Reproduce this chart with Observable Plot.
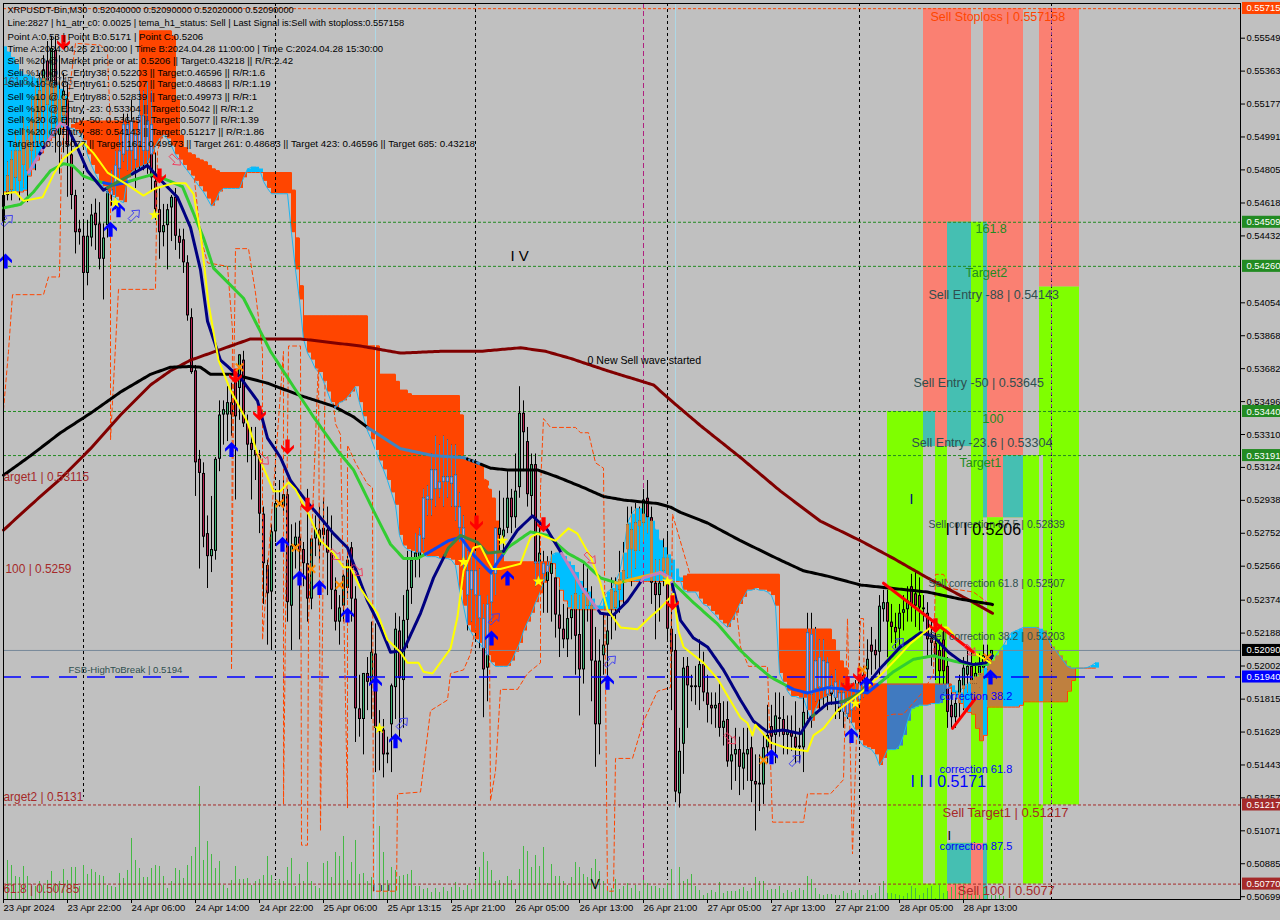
<!DOCTYPE html>
<html><head><meta charset="utf-8">
<script src="https://cdn.jsdelivr.net/npm/d3@7"></script>
<script src="https://cdn.jsdelivr.net/npm/@observablehq/plot@0.6"></script>
<style>html,body{margin:0;padding:0;background:#C0C0C0;overflow:hidden}svg{display:block}</style>
</head><body><div id="chart"></div>
<script>
// All prices in 1/10000 units (5209 = 0.5209). Bars are 30 minute candles.
const ohlcRows = [
[5451,5480,5445,5466],[5477,5485,5463,5466],[5469,5491,5463,5486],[5491,5503,5468,5476],[5474,5497,5463,5491],[5503,5510,5470,5483],[5480,5505,5462,5497],[5508,5520,5480,5491],
[5500,5528,5480,5522],[5525,5535,5495,5508],[5514,5545,5495,5537],[5542,5553,5495,5517],[5520,5556,5498,5549],[5548,5556,5490,5512],[5500,5545,5478,5520],[5511,5535,5490,5525],
[5520,5530,5465,5494],[5489,5500,5458,5466],[5466,5469,5433,5445],[5447,5452,5438,5445],[5443,5452,5407,5422],[5422,5452,5415,5443],[5442,5461,5437,5455],[5456,5464,5435,5449],
[5450,5462,5424,5430],[5430,5450,5407,5442],[5449,5469,5442,5468],[5469,5480,5460,5466],[5472,5491,5458,5483],[5481,5500,5475,5491],[5506,5512,5485,5489],[5491,5512,5480,5506],
[5508,5520,5480,5491],[5486,5503,5470,5500],[5494,5525,5480,5511],[5511,5525,5480,5491],[5491,5530,5478,5508],[5506,5525,5468,5476],[5474,5490,5452,5458],[5458,5470,5430,5445],
[5445,5461,5437,5449],[5449,5461,5424,5458],[5459,5466,5440,5465],[5465,5470,5435,5443],[5443,5447,5430,5439],[5441,5447,5422,5428],[5428,5432,5395,5398],[5397,5402,5365,5366],
[5367,5370,5296,5315],[5317,5322,5255,5309],[5309,5315,5267,5273],[5275,5285,5244,5262],[5262,5296,5253,5266],[5265,5318,5260,5317],[5317,5350,5310,5342],[5342,5350,5325,5345],
[5342,5358,5327,5349],[5349,5360,5330,5342],[5362,5362,5294,5341],[5357,5376,5339,5376],[5373,5378,5335,5337],[5337,5342,5315,5325],[5326,5335,5294,5322],[5322,5335,5305,5319],
[5319,5322,5275,5286],[5286,5290,5235,5258],[5257,5260,5212,5241],[5242,5280,5209,5276],[5276,5300,5270,5292],[5292,5305,5290,5293],[5290,5305,5285,5297],[5297,5300,5225,5236],
[5234,5280,5209,5268],[5268,5281,5255,5273],[5273,5282,5215,5265],[5266,5270,5245,5258],[5258,5300,5225,5238],[5238,5272,5232,5272],[5272,5285,5262,5278],[5268,5290,5260,5277],
[5278,5295,5268,5274],[5277,5290,5240,5264],[5264,5285,5232,5243],[5243,5250,5220,5225],[5225,5240,5212,5233],[5234,5252,5225,5251],[5244,5265,5238,5260],[5267,5270,5225,5238],
[5238,5245,5157,5176],[5176,5195,5160,5170],[5170,5196,5150,5196],[5196,5205,5175,5191],[5191,5225,5170,5208],[5207,5224,5140,5165],[5165,5175,5141,5163],[5164,5170,5137,5150],
[5150,5160,5145,5151],[5167,5190,5140,5189],[5188,5230,5170,5221],[5220,5228,5160,5193],[5192,5240,5165,5226],[5226,5265,5210,5243],[5244,5265,5235,5260],[5260,5275,5250,5264],
[5261,5278,5250,5274],[5272,5300,5265,5295],[5294,5302,5285,5296],[5294,5320,5285,5311],[5311,5330,5290,5300],[5300,5325,5295,5304],[5304,5330,5290,5307],[5307,5328,5295,5304],
[5303,5325,5290,5307],[5308,5325,5282,5290],[5290,5298,5270,5278],[5278,5285,5250,5260],[5240,5265,5220,5254],[5243,5262,5225,5254],[5254,5265,5220,5240],[5240,5255,5210,5227],
[5227,5235,5171,5198],[5199,5240,5180,5235],[5236,5255,5225,5252],[5252,5278,5240,5278],[5274,5299,5265,5278],[5273,5295,5262,5277],[5278,5310,5275,5295],[5295,5300,5275,5284],
[5284,5320,5278,5299],[5301,5358,5295,5343],[5343,5350,5310,5332],[5327,5335,5290,5297],[5296,5320,5285,5314],[5314,5320,5245,5258],[5258,5280,5248,5264],[5252,5265,5230,5258],
[5248,5262,5230,5257],[5252,5265,5225,5258],[5250,5255,5216,5229],[5229,5245,5205,5221],[5221,5235,5210,5215],[5215,5235,5205,5227],[5227,5240,5215,5232],[5241,5250,5195,5217],
[5218,5240,5172,5198],[5198,5258,5190,5241],[5241,5255,5225,5234],[5234,5245,5180,5203],[5203,5222,5143,5167],[5167,5215,5150,5203],[5206,5230,5195,5212],[5212,5230,5190,5220],
[5232,5250,5215,5243],[5233,5250,5220,5242],[5249,5265,5230,5243],[5248,5270,5235,5254],[5266,5290,5250,5280],[5266,5290,5245,5277],[5265,5292,5255,5281],[5279,5290,5265,5282],
[5281,5300,5270,5294],[5295,5305,5275,5284],[5284,5290,5235,5247],[5247,5260,5215,5240],[5240,5260,5225,5247],[5254,5272,5245,5261],[5261,5275,5215,5221],[5221,5235,5175,5208],
[5209,5218,5123,5129],[5128,5165,5120,5152],[5156,5205,5139,5199],[5200,5205,5165,5189],[5189,5195,5180,5188],[5189,5200,5178,5188],[5188,5215,5175,5201],[5201,5208,5180,5185],
[5185,5195,5168,5178],[5178,5185,5167,5176],[5176,5185,5165,5178],[5179,5190,5160,5165],[5165,5180,5155,5169],[5170,5180,5143,5146],[5146,5160,5130,5150],[5150,5165,5135,5153],
[5153,5160,5127,5143],[5142,5165,5130,5151],[5150,5165,5135,5153],[5154,5160,5123,5135],[5135,5150,5107,5133],[5134,5150,5118,5133],[5133,5162,5122,5154],[5154,5178,5145,5161],
[5166,5178,5150,5160],[5161,5185,5145,5172],[5171,5185,5160,5170],[5170,5183,5150,5161],[5161,5172,5150,5164],[5163,5172,5152,5160],[5160,5180,5145,5154],[5154,5165,5145,5155],
[5154,5185,5140,5174],[5185,5230,5170,5219],[5184,5230,5165,5218],[5203,5222,5180,5187],[5188,5215,5175,5205],[5203,5215,5178,5186],[5184,5205,5175,5202],[5189,5195,5178,5184],
[5182,5198,5170,5191],[5185,5192,5170,5174],[5174,5190,5165,5185],[5181,5188,5170,5173],[5175,5190,5168,5181],[5184,5192,5175,5178],[5181,5198,5178,5192],[5188,5200,5182,5195],
[5198,5215,5188,5204],[5212,5222,5195,5208],[5209,5215,5198,5206],[5208,5240,5195,5234],[5232,5243,5225,5236],[5236,5243,5205,5225],[5225,5235,5213,5222],[5222,5230,5210,5219],
[5221,5235,5210,5230],[5230,5240,5220,5232],[5232,5245,5225,5237],[5245,5252,5225,5234],[5241,5253,5222,5234],[5240,5250,5220,5233],[5233,5240,5225,5232],[5230,5236,5205,5215],
[5216,5225,5200,5213],[5213,5220,5192,5205],[5209,5215,5190,5197],[5215,5222,5185,5197],[5200,5205,5165,5174],[5178,5185,5165,5171],[5171,5185,5165,5179],[5179,5195,5170,5192],
[5187,5205,5175,5199],[5195,5210,5185,5200],[5200,5208,5182,5190],[5190,5202,5183,5196],[5195,5207,5188,5200],[5199,5212,5193,5206],[5203,5212,5198,5206],[5204,5209,5202,5209]
];
const volumes = [38,39,34,23,22,33,23,13,13,18,14,19,28,16,18,30,19,32,32,13,34,25,30,27,24,23,14,13,12,26,21,29,61,39,31,22,22,31,34,33,23,11,18,31,29,21,34,43,52,113,39,58,45,31,38,14,11,19,33,20,20,21,14,18,20,24,43,24,18,20,18,32,41,13,25,18,37,18,13,11,36,38,22,47,43,63,19,37,59,25,26,18,22,43,73,47,19,32,29,23,24,25,29,13,13,10,11,7,11,7,12,8,12,17,12,9,14,10,20,32,47,38,29,18,19,
16,23,19,10,30,53,48,32,44,33,52,16,35,23,23,18,14,22,37,32,25,22,31,40,28,18,13,11,20,10,13,16,11,14,8,19,16,13,13,11,11,16,30,97,32,18,20,25,13,9,4,6,9,7,17,6,8,8,8,10,12,8,11,22,18,18,9,10,10,13,6,9,7,9,11,9,23,20,11,5,4,5,5,4,4,8,6,9,6,9,4,9,4,6,13,18,6,6,5,4,3,6,13,11,4,6,11,13,1,14,6,8,12,15,8,14,5,5,8,4,12,4,4,4,4,3];
// Ichimoku-like cloud: [span A, span B] per bar
const cloudRows = [
[5550,5468],[5547,5468],[5544,5468],[5540,5468],[5536,5468],[5534,5469],[5534,5477],[5533,5481],[5532,5486],[5532,5490],[5532,5494],[5531,5497],[5530,5499],[5528,5502],[5526,5504],[5522,5505],[5504,5504],
[5504,5506],[5503,5507],[5501,5508],[5497,5508],[5489,5508],[5483,5508],[5478,5508],[5474,5508],[5471,5508],[5467,5508],[5466,5508],[5465,5508],[5463,5508],[5462,5508],[5476,5508],[5479,5508],[5481,5508],
[5482,5559],[5483,5559],[5484,5559],[5489,5559],[5494,5559],[5498,5559],[5500,5559],[5498,5559],[5494,5556],[5489,5520],[5486,5500],[5483,5493],[5480,5490],[5477,5489],[5474,5487],[5471,5486],[5468,5485],[5464,5483],[5460,5481],[5463,5480],[5468,5479],
[5470,5479],[5470,5479],[5470,5479],[5470,5479],[5470,5479],[5476,5479],[5481,5479],[5482,5479],[5482,5479],[5481,5479],[5474,5479],[5470,5479],[5467,5479],[5467,5479],[5467,5479],[5467,5479],[5467,5479],
[5445,5469],[5424,5442],[5407,5415],[5385,5398],[5377,5398],[5373,5398],[5368,5398],[5366,5398],[5361,5398],[5355,5398],[5349,5398],[5346,5398],[5349,5398],[5350,5398],[5352,5398],[5355,5398],[5358,5398],[5349,5398],[5341,5398],
[5333,5381],[5328,5381],[5322,5381],[5316,5365],[5311,5365],[5305,5365],[5298,5365],[5291,5361],[5274,5356],[5268,5356],[5266,5354],[5265,5353],[5264,5353],[5264,5353],[5263,5353],[5262,5353],[5262,5353],[5262,5353],[5261,5353],[5261,5353],[5261,5353],[5260,5353],[5257,5353],
[5243,5342],[5234,5318],[5223,5317],[5219,5316],[5215,5315],[5213,5313],[5210,5305],[5206,5300],[5202,5295],[5200,5282],[5200,5265],[5200,5259],[5200,5259],[5203,5259],[5208,5259],[5213,5259],[5220,5259],[5225,5259],[5230,5259],[5236,5259],[5241,5259],[5247,5259],[5253,5259],
[5263,5258],[5264,5250],[5264,5243],[5262,5237],[5259,5233],[5257,5232],[5253,5232],[5248,5232],[5244,5232],[5242,5232],[5238,5232],[5234,5232],[5234,5232],[5239,5232],[5242,5232],[5244,5232],[5248,5232],[5253,5237],[5264,5248],[5281,5248],[5286,5248],[5289,5248],[5289,5248],[5286,5248],[5284,5248],[5282,5248],[5277,5248],[5271,5248],[5267,5248],[5263,5248],[5260,5248],[5255,5248],[5250,5248],
[5243,5251],[5242,5252],[5242,5252],[5242,5252],[5238,5252],[5235,5252],[5234,5252],[5231,5252],[5229,5252],[5226,5252],[5224,5252],[5222,5252],[5226,5252],[5230,5252],[5235,5252],[5239,5252],[5243,5252],[5243,5252],[5244,5252],[5243,5252],[5243,5252],[5242,5252],[5240,5252],[5234,5252],
[5196,5221],[5191,5221],[5186,5221],[5183,5221],[5183,5221],[5182,5221],[5182,5221],[5175,5221],[5169,5221],[5176,5221],[5181,5221],[5182,5221],[5183,5221],[5185,5215],[5182,5209],[5177,5203],[5174,5199],[5171,5190],[5168,5190],[5164,5190],[5158,5190],[5155,5190],[5154,5190],[5153,5190],[5150,5190],[5144,5190],[5148,5190],[5153,5190],[5153,5190],[5153,5190],[5155,5190],[5161,5190],[5169,5190],[5176,5190],[5177,5190],[5178,5190],[5178,5190],[5178,5190],[5179,5190],[5179,5190],[5179,5190],[5183,5190],[5187,5190],
[5189,5185],[5186,5182],[5185,5179],[5189,5176],[5190,5174],[5192,5173],[5194,5165],[5196,5158],[5199,5161],[5201,5177],[5203,5177],[5206,5177],[5209,5177],[5212,5177],[5216,5177],[5219,5177],[5220,5177],[5221,5178],[5222,5180],[5222,5180],[5222,5180],[5222,5180],[5221,5180],[5220,5180],[5217,5180],[5211,5180],[5209,5180],[5206,5180],[5203,5180],[5200,5186],[5199,5192],[5199,5199],[5199,5199],[5199,5199],[5199.4,5199],[5200.5,5199],[5202,5199]
];
// moving averages: [bar, price]
const maBlack = [[0,5308],[6.75,5319],[14.25,5332],[21.75,5343],[29.25,5355],[36.75,5365],[41.75,5369],[46.75,5369.4],[49.25,5369],[51.75,5365],[57.5,5365],[66,5360],[74.25,5353],[82.5,5347],[87.5,5341],[91,5335],[99.25,5323],[107.5,5319],[115,5318],[118.5,5315],[121.75,5312],[126,5311],[133.5,5311],[138.5,5307],[145,5301],[150,5296],[155,5294],[163.5,5292],[166.75,5290],[169.25,5287],[176,5281],[184.25,5271],[194.25,5260],[200,5254],[206,5251],[214.25,5246],[222.5,5244],[231,5242],[239.25,5238],[247.25,5235]];
const maDarkRed = [[0,5277],[6.75,5291],[14.25,5306],[21.75,5323],[29.25,5342],[36.75,5359],[41.75,5367],[46.75,5373],[51.75,5377],[56.75,5381],[61.75,5385],[66.75,5385],[74.25,5385],[81.75,5383],[89.25,5381],[99.25,5377],[109.25,5378],[119.25,5378],[129.25,5380],[135.5,5378],[141.75,5374],[151,5367],[162.5,5359],[167.5,5349],[174.25,5336],[184.25,5318],[194.25,5299],[204.25,5282],[214.25,5271],[222.5,5261],[231,5250],[241.75,5237],[247.25,5230]];
const maNavy = [[6.25,5479],[10,5493],[14.25,5507],[16,5504.5],[18.5,5493],[21,5480],[25,5469],[28,5473],[31.25,5477],[36,5483],[38.75,5476],[43.5,5465],[46.75,5448],[49.25,5424],[51,5395],[54.25,5373],[59.25,5363],[63.5,5350],[66,5329],[69.25,5318],[71.75,5305],[75.5,5294],[79.25,5284],[82.5,5275],[86,5267],[91,5237],[94.25,5222],[96.75,5208],[100,5209],[104.25,5230],[107.5,5250],[111.25,5267],[114.25,5274],[118.5,5270],[121,5264],[125,5265],[128.5,5277],[132.25,5285],[136,5277],[140,5262],[145,5243],[149.25,5230],[152.5,5229],[156,5237],[160,5250],[164.25,5253],[166.75,5250],[168,5239],[169.25,5226],[172.5,5216],[176,5211],[180,5198],[184.25,5181],[187.5,5169],[191,5163],[195,5164],[199.25,5162],[201.75,5171],[206,5179],[209.75,5180],[214.25,5185],[219.25,5199],[224.25,5211],[229.25,5219],[232.5,5217],[236.25,5208],[239.25,5203],[242.5,5201],[245.5,5202],[247.25,5206]];
const maGreen = [[0,5459],[4.25,5461],[7.5,5468],[11.75,5480],[15,5484],[17.25,5483],[20,5477],[23.5,5474],[27.5,5472],[30,5473],[34.25,5476],[37.5,5478],[41.75,5474],[44.75,5471],[47.5,5456],[50,5442],[52.5,5425],[60,5408],[66.75,5378],[72.5,5358],[77.5,5341],[83.5,5322],[87.5,5311],[92.5,5288],[96.75,5269],[100,5261],[103.5,5261],[106,5264],[111.25,5271],[114.25,5273],[117.5,5263],[121.75,5253],[126,5267],[131.75,5276],[136,5274],[141,5264],[145,5259],[149.25,5250],[153.5,5247],[158.5,5250],[164.25,5253],[167.5,5247],[172.5,5236],[178.5,5224],[184.25,5209],[187.5,5202],[191.75,5194],[197.5,5187],[201,5185],[206,5188],[211,5187],[216,5185],[222.5,5197],[227.5,5204],[232.5,5206],[237.5,5203],[241.75,5201],[246,5201]];
const maYellow = [[0,5467],[3,5468],[5,5463],[9.75,5465],[12.5,5478],[15,5487],[20,5496],[22.5,5490],[26,5479],[31,5472],[35,5466],[38,5470],[42.5,5473],[45.5,5473],[47.5,5467],[49.25,5445],[51.25,5405],[53.75,5373],[56.75,5356],[61,5338],[63.5,5320],[67.5,5299],[69.25,5299],[71.25,5304],[73,5300],[76.25,5286],[79.25,5271],[82.5,5264],[85,5256],[86.75,5256],[89.25,5244],[91,5238],[93.5,5230],[96,5215],[99.25,5208],[101,5202],[103.75,5202],[105,5197],[107.25,5196],[111.75,5210],[113.5,5228],[115,5254],[117.5,5267],[119.25,5268],[121,5260],[122.25,5255],[124.25,5255],[129.25,5258],[131.75,5273],[133.5,5275],[138,5271],[141.25,5278],[143.5,5275],[146.75,5262],[149.25,5247],[151,5232],[154.25,5222],[158.5,5221],[161.75,5228],[164.25,5233],[167.5,5241],[168.75,5220],[170,5211],[175,5202],[178.5,5193],[184.25,5171],[186,5168],[187.25,5161],[188,5167],[191.75,5157],[195.5,5154],[201,5152],[202.5,5161],[205,5165],[208.5,5175],[214.25,5185],[219.25,5195],[223.5,5205],[226.75,5213],[231.75,5222],[236,5222],[238.5,5215],[241.75,5209],[246.75,5202]];
const dashedPath = [[0,5345],[1.25,5378],[2.25,5410],[10,5410],[11.25,5420],[14,5420],[14.5,5491.5],[18,5552],[24.25,5551],[26,5547],[26.75,5503],[26.75,5328],[28.75,5413],[38,5413],[38.5,5491],[41.25,5514],[47.5,5480],[49.25,5443],[51,5428],[56,5426],[57.25,5390],[57,5198],[57.5,5350],[58,5436],[61.25,5436],[63,5411],[64.75,5378],[64.75,5215],[70,5378],[70,5122],[71.25,5381],[74.25,5381],[74.5,5099],[76,5099],[76.25,5226],[78.75,5373],[79.25,5107],[80.5,5390],[83,5337],[84.25,5331],[86,5120],[86,5325],[88,5315],[91,5303],[92.25,5301],[92.5,5073],[98.25,5073],[98.5,5128],[104.25,5129],[106.75,5175],[111,5181],[111.75,5196],[115,5198],[116.75,5207],[118.5,5228],[118.5,5307],[121.25,5305],[121.75,5124],[123,5141],[124.25,5187],[128.5,5187],[131,5196],[134.25,5202],[134.25,5301],[135,5340],[136.75,5335],[143,5335],[144.25,5332],[146.25,5332],[148,5315],[150,5312],[151,5073],[152.5,5073],[153,5148],[157.25,5148],[160,5169],[163.5,5186],[166.75,5188],[167.25,5286],[171.75,5251],[183,5237],[184.25,5211],[186.25,5200],[191,5200],[192.25,5112],[200,5112],[201,5128],[206.75,5128],[210,5136],[211,5227],[212.25,5094],[214.25,5227],[215,5227],[215.25,5169],[222.5,5173],[225,5173],[230,5186],[232.5,5196],[233,5252],[235,5252],[236.75,5244],[242.5,5242],[247.25,5234]];
const redLines = [[[220,5247],[242.5,5208]],[[237.25,5165],[243,5182]]];
// signals: [bar, price]
const blueUp = [[0.5,5429],[26.75,5447],[28.75,5458],[57,5322.5],[69.75,5269],[74,5250],[79,5244.5],[86,5229],[93,5190],[98,5158],[122,5216],[126,5250],[151,5191],[192,5149],[212,5161],[215.75,5190],[246.75,5194]];
const redDown = [[15,5552.5],[39,5477],[58,5364],[64,5343],[71,5324],[76,5291],[118.25,5281],[135,5280],[167.25,5236],[211,5190],[214,5195],[233,5223]];
const hollowBlue = [[1,5452],[32.75,5455],[99.75,5168],[122.75,5227],[151.75,5203],[198,5147],[223.75,5213]];
const hollowRed = [[43,5486],[65,5317],[83,5263],[88.5,5254],[146.75,5261],[181.75,5159],[241.75,5209]];
const stars = [[28,5462],[37.75,5455],[94,5165],[115,5259],[124.75,5271],[133.75,5248],[166,5248],[213,5179]];
const crosses = [[59,5369],[69,5292],[73,5267],[77,5255],[84,5246],[190,5147],[214.75,5198],[246,5205]];
// zones: [bar from, bar to, top price, bottom price]
const limeZones = [[221,230,5344,5068.3],[230,233,5344,5324.2],[230,233,5077,5068.3],[233,236,5324.2,5068.3],[236,242,5450.9,5324.2],[242,245,5450.9,5100],[245,246,5450.9,5284],[246,250,5284,5077],[250,255,5319.1,5284],[255,259,5319.1,5077],[259,260,5414.3,5319.1],[259,260,5121.7,5077],[260,269,5414.3,5121.7],[236,242,5100,5077],[245,246,5100,5068.3]];
const salmonZones = [[230,242,5571.6,5324.2],[245,255,5571.6,5284],[259,269,5571.6,5414.3],[236,246,5100,5068.3]];
// levels
const greenLevels = [5450.9,5426,5344,5319.1];
const brownLevels = [5121.7,5077];
const stopLevel = 5571.58, breakLevel = 5194, lastPrice = 5209;
const sessionBars = [[20,5126],[68,5079],[118,5079],[166,5079],[214,5077],[262,5068.3]];
const cyanBars = [93,168];
const purpleBar = 160;
const xTickBars = [0,16,32,48,64,80,96,112,128,144,160,176,192,208,224,240];
const xTickLabels = ["23 Apr 2024","23 Apr 22:00","24 Apr 06:00","24 Apr 14:00","24 Apr 22:00","25 Apr 06:00","25 Apr 13:15","25 Apr 21:00","26 Apr 05:00","26 Apr 13:00","26 Apr 21:00","27 Apr 05:00","27 Apr 13:00","27 Apr 21:00","28 Apr 05:00","28 Apr 13:00"];
const yTicks = [0.55549,0.55363,0.55177,0.54991,0.54805,0.54618,0.54432,0.54054,0.53868,0.53682,0.53496,0.5331,0.53124,0.52938,0.52752,0.52566,0.52374,0.52188,0.52002,0.51815,0.51629,0.51443,0.51257,0.51071,0.50885,0.50699];
const badges = [[5571.7,"0.55715","#FF4500"],[5450.9,"0.54509","#228B22"],[5426,"0.54260","#228B22"],[5344,"0.53440","#228B22"],[5319.1,"0.53191","#228B22"],[5209,"0.52090","#000000"],[5194,"0.51940","#0000FF"],[5121.7,"0.51217","#A52A2A"],[5077,"0.50770","#A52A2A"]];
const infoLines = ["XRPUSDT-Bin,M30  0.52040000 0.52090000 0.52020000 0.52090000","Line:2827 | h1_atr_c0: 0.0025 | tema_h1_status: Sell | Last Signal is:Sell with stoploss:0.557158","Point A:0.53 | Point B:0.5171 | Point C:0.5206","Time A:2024.04.26 21:00:00 | Time B:2024.04.28 11:00:00 | Time C:2024.04.28 15:30:00","Sell %20 @ Market price or at: 0.5206 || Target:0.43218 || R/R:2.42","Sell %10 @ C_Entry38: 0.52203 || Target:0.46596 || R/R:1.6","Sell %10 @ C_Entry61: 0.52507 || Target:0.48683 || R/R:1.19","Sell %10 @ C_Entry88: 0.52839 || Target:0.49973 || R/R:1","Sell %10 @ Entry -23: 0.53304 || Target:0.5042 || R/R:1.2","Sell %20 @ Entry -50: 0.53645 || Target:0.5077 || R/R:1.39","Sell %20 @ Entry -88: 0.54143 || Target:0.51217 || R/R:1.86","Target100: 0.5077 || Target 161: 0.49973 || Target 261: 0.48683 || Target 423: 0.46596 || Target 685: 0.43218"];
const infoRows = [10,23,36,48,60,72,83,96,108,119,131,143];
const infoSizes = [9.16,9.32,9.7,9.57,9.65,9.7,9.7,9.7,9.7,9.7,9.7,9.78];
const G="#228B22",B="#A52A2A",S="#2F4F4F",U="#0000FF",K="#000000";
const labels = [["Sell Stoploss | 0.557158",231.75,5567,"#FF4500",12.5],["161.8",243,5447,G,12.5],["Target2",240.5,5422,G,12.5],["Sell Entry -88 | 0.54143",231.25,5410,S,12.5],["Sell Entry -50 | 0.53645",227.5,5360,S,12.5],["100",244.75,5340,G,12.5],["Sell Entry -23.6 | 0.53304",227,5326,S,12.5],["Target1",239,5315,G,12.5],["Sell correction 87.5 | 0.52839",231.25,5280,S,10.5],["I I I 0.5206",235.5,5277,K,16],["I",226.5,5294,"#00008B",14],["Sell correction 61.8 | 0.52507",231.25,5247,S,10.5],["Sell correction 38.2 | 0.52203",231.25,5217,S,10.5],["correction 38.2",234,5183,U,11],["correction 61.8",234,5142,U,11],["I I I 0.5171",226.75,5135,U,16],["Sell Target1 | 0.51217",234.75,5117,B,13],["correction 87.5",234,5098,U,11],["Sell 100 | 0.5077",238.5,5073,B,13],["0 New Sell wave started",146,5373,K,10.6],["I V",126.75,5432,K,15],["V",146.75,5077,K,14],["I",236,5104,K,13],["arget1 | 0.53115",0,5307,B,11.9],["100 | 0.5259",0.5,5255,B,11.9],["FSB-HighToBreak | 0.5194",16.25,5198,S,9.6],["arget2 | 0.5131",0,5126,B,11.9],["61.8 | 0.50785",0,5074,B,11.9],["161.8 | 0.55745",0,5530,"#555555",10],["I  I  I",92.25,5074.5,K,9]];

// ------ colour logic: the terminal paints zones and cloud with XOR ------
const BG="#C0C0C0", LIME="#7FFF00", SALMON="#FA8072", ORANGE="#FF4500", SKY="#00BFFF";
const hx=s=>parseInt(s.slice(1),16), xr=(a,b)=>"#"+(hx(a)^hx(b)).toString(16).padStart(6,"0");
const limeMask=xr(BG,LIME), salmonMask=xr(BG,SALMON), orangeMask=xr(BG,ORANGE), skyMask=xr(BG,SKY);
const inZ=(z,b,p)=>b>=z[0]&&b<z[1]&&p<=z[2]&&p>=z[3];
function bandColor(b,p){let c=BG;if(limeZones.some(z=>inZ(z,b,p)))c=xr(c,limeMask);if(salmonZones.some(z=>inZ(z,b,p)))c=xr(c,salmonMask);return c;}
const cloud=cloudRows.map(([a,b],i)=>({i,a,b,top:Math.max(a,b),bot:Math.min(a,b),mask:a>=b?skyMask:orangeMask}));
cloud.forEach(d=>{d.c=xr(bandColor(d.i+.5,(d.top+d.bot)/2),d.mask)});
const overlaps=[];limeZones.forEach(l=>salmonZones.forEach(s=>{const x1=Math.max(l[0],s[0]),x2=Math.min(l[1],s[1]),t=Math.min(l[2],s[2]),b=Math.max(l[3],s[3]);if(x1<x2&&b<t)overlaps.push([x1,x2,t,b])}));
function maMask(b,p){const d=cloud[Math.floor(b)];return d&&p<=d.top&&p>=d.bot?d.mask:null}
function fine(rows,col,xorIt=true){const o=[];for(let k=0;k<rows.length-1;k++){const [b0,p0]=rows[k],[b1,p1]=rows[k+1],n=Math.max(1,Math.ceil((b1-b0)*2));for(let j=0;j<n;j++){const t=j/n,b=b0+(b1-b0)*t,p=p0+(p1-p0)*t,m=xorIt?maMask(b,p):null;o.push({b,p,c:m?xr(col,m):col})}}const l=rows[rows.length-1];o.push({b:l[0],p:l[1],c:col});return o}
const candles=ohlcRows.map(([o,h,l,c],i)=>({i,o,h,l,c,up:c>=o,hi:Math.max(o,c),lo:Math.min(o,c)}));
const wickX=[],bodyX=[];candles.forEach(d=>{const q=cloud[d.i];if(!q)return;const t=Math.min(d.h,q.top),b=Math.max(d.l,q.bot);if(b<t)wickX.push({i:d.i,t,b,c:q.mask});const t2=Math.min(d.hi,q.top),b2=Math.max(d.lo,q.bot);if(b2<t2)bodyX.push({i:d.i,t:t2,b:b2,c:q.mask,n:q.mask===skyMask?"#C8893F":"#B3A8E6"})});
// ------ symbols ------
const poly=(pts,rot)=>({draw(c,size){const r=Math.sqrt(size/Math.PI)/7,cs=Math.cos(rot),sn=Math.sin(rot);pts.forEach(([x,y],k)=>{const X=(x*cs-y*sn)*r,Y=(x*sn+y*cs)*r;k?c.lineTo(X,Y):c.moveTo(X,Y)});c.closePath()}});
const arrowPts=[[0,-7],[6,-1],[6,2],[2,-1.5],[2,7],[-2,7],[-2,-1.5],[-6,2],[-6,-1]];
const hollowPts=[[0,-7],[5,-1],[2,-1],[2,7],[-2,7],[-2,-1],[-5,-1]];
const f0=d=>d[0],f1=d=>d[1];
const font="'Liberation Sans',Arial,sans-serif";
const yMin=5068.3,yMax=5574.5;
const chart=Plot.plot({width:1280,height:920,marginLeft:3,marginRight:40,marginTop:3,marginBottom:21,
 style:{background:BG,fontFamily:font,fontSize:"11px",color:"#000",overflow:"hidden"},
 x:{domain:[0,309.25],range:[3,1240],axis:null},y:{domain:[yMin,yMax],range:[899,3],axis:null},
 marks:[
  Plot.rect(salmonZones,{x1:f0,x2:f1,y1:d=>d[2],y2:d=>d[3],fill:SALMON}),
  Plot.rect(limeZones,{x1:f0,x2:f1,y1:d=>d[2],y2:d=>d[3],fill:LIME}),
  Plot.rect(overlaps,{x1:f0,x2:f1,y1:d=>d[2],y2:d=>d[3],fill:xr(xr(BG,limeMask),salmonMask)}),
  Plot.ruleX(volumes.map((v,i)=>[i,v]),{x:f0,y1:yMin,y2:d=>yMin+d[1]*0.565,stroke:"#45B845",strokeWidth:1}),
  Plot.rect(cloud,{x1:"i",x2:d=>d.i+1,y1:"top",y2:"bot",fill:{value:"c",scale:null}}),
  Plot.line(cloud.slice(0,274),{x:d=>d.i,y:"b",stroke:ORANGE,strokeWidth:1,curve:"step-after"}),
  Plot.line(cloud,{x:d=>d.i,y:"a",stroke:"#1EB4F0",strokeWidth:1}),
  Plot.ruleY(greenLevels,{stroke:G,strokeDasharray:"3,2"}),
  Plot.ruleY(brownLevels,{stroke:B,strokeDasharray:"3,2"}),
  Plot.ruleY([stopLevel],{stroke:ORANGE,strokeDasharray:"3,2"}),
  Plot.ruleY([lastPrice],{stroke:"#778899"}),
  Plot.ruleX(cyanBars,{stroke:"#ADD8E6"}),
  Plot.ruleX(sessionBars,{x:f0,y1:yMax,y2:f1,stroke:"#000",strokeDasharray:"3,3"}),
  Plot.ruleX([262],{y1:5571.6,y2:5121.7,stroke:"#8B3A9A",strokeDasharray:"3,3"}),
  Plot.ruleX([purpleBar],{y1:yMax,y2:5079,stroke:"#B0207F",strokeDasharray:"5,3"}),
  Plot.ruleX(candles,{x:"i",y1:"h",y2:"l",stroke:"#000",strokeWidth:1}),
  Plot.ruleX(candles,{x:"i",y1:"hi",y2:"lo",stroke:"#000",strokeWidth:3}),
  Plot.ruleX(candles.filter(d=>d.hi-d.lo>1.2),{x:"i",y1:"hi",y2:"lo",insetTop:1,insetBottom:1,stroke:d=>d.up?"#3CB371":"#B5204F",strokeWidth:1}),
  Plot.ruleX(wickX,{x:"i",y1:"t",y2:"b",stroke:{value:"c",scale:null},strokeWidth:1}),
  Plot.ruleX(bodyX,{x:"i",y1:"t",y2:"b",stroke:{value:"c",scale:null},strokeWidth:3}),
  Plot.ruleX(bodyX.filter(d=>d.t-d.b>1.2),{x:"i",y1:"t",y2:"b",insetTop:1,insetBottom:1,stroke:{value:"n",scale:null},strokeWidth:1}),
  Plot.ruleY([breakLevel],{stroke:"#0000FF",strokeWidth:1.5,strokeDasharray:"18,10"}),
  Plot.line(dashedPath,{x:f0,y:f1,stroke:ORANGE,strokeWidth:1,strokeDasharray:"4,3"}),
  Plot.line(fine(maDarkRed,"#800000",false),{x:"b",y:"p",stroke:"#800000",strokeWidth:3}),
  Plot.line(fine(maBlack,"#000000"),{x:"b",y:"p",stroke:{value:"c",scale:null},z:null,strokeWidth:3}),
  Plot.line(fine(maGreen,"#32CD32"),{x:"b",y:"p",stroke:{value:"c",scale:null},z:null,strokeWidth:3}),
  Plot.line(fine(maNavy,"#000080"),{x:"b",y:"p",stroke:{value:"c",scale:null},z:null,strokeWidth:3}),
  Plot.line(maYellow,{x:f0,y:f1,stroke:"#FFFF00",strokeWidth:2}),
  ...redLines.map(r=>Plot.line(r,{x:f0,y:f1,stroke:"#FF0000",strokeWidth:3})),
  Plot.dot(blueUp,{x:f0,y:f1,r:7.5,symbol:poly(arrowPts,0),fill:"#0000FF",stroke:"none"}),
  Plot.dot(redDown,{x:f0,y:f1,r:7.5,symbol:poly(arrowPts,Math.PI),fill:"#FF0000",stroke:"none"}),
  Plot.dot(hollowBlue,{x:f0,y:f1,r:7,symbol:poly(hollowPts,Math.PI/4),fill:"none",stroke:"#4040F0",strokeWidth:1}),
  Plot.dot(hollowRed,{x:f0,y:f1,r:7,symbol:poly(hollowPts,Math.PI*3/4),fill:"none",stroke:"#F04060",strokeWidth:1}),
  Plot.dot(stars,{x:f0,y:f1,r:3.6,symbol:"star",fill:"#FFFF00",stroke:"none"}),
  Plot.dot(crosses,{x:f0,y:f1,r:3.5,symbol:"times",stroke:"#FF8C00",strokeWidth:2}),
  Plot.text(labels,{x:d=>d[1],y:d=>d[2],text:d=>d[0],fill:d=>d[3],fontSize:d=>d[4],textAnchor:"start"}),
  ...infoLines.map((t,k)=>Plot.text([t],{frameAnchor:"top-left",dx:4,dy:infoRows[k]-3,text:d=>d,fill:"#000",fontSize:infoSizes[k],textAnchor:"start",lineAnchor:"middle",fontFamily:font})),
  Plot.frame({stroke:"#000"}),
  Plot.axisY({anchor:"right",ticks:yTicks.map(v=>v*1e4),tickFormat:d=>(d/1e4).toFixed(5),tickSize:4,tickPadding:2,label:null,fontSize:9.4,fill:"#000"}),
  Plot.axisX({anchor:"bottom",ticks:xTickBars,tickFormat:d=>xTickLabels[xTickBars.indexOf(d)],tickSize:4,tickPadding:1,label:null,textAnchor:"start",fontSize:9.5,fill:"#000"}),
  Plot.rect(badges,{x1:309.75,x2:322,y1:d=>d[0]+3.4,y2:d=>d[0]-3.4,fill:d=>d[2]}),
  Plot.text(badges,{x:310.75,y:f0,text:f1,fill:"#FFFFFF",textAnchor:"start",fontSize:9.4})
 ]});
document.getElementById("chart").appendChild(chart);
</script></body></html>
